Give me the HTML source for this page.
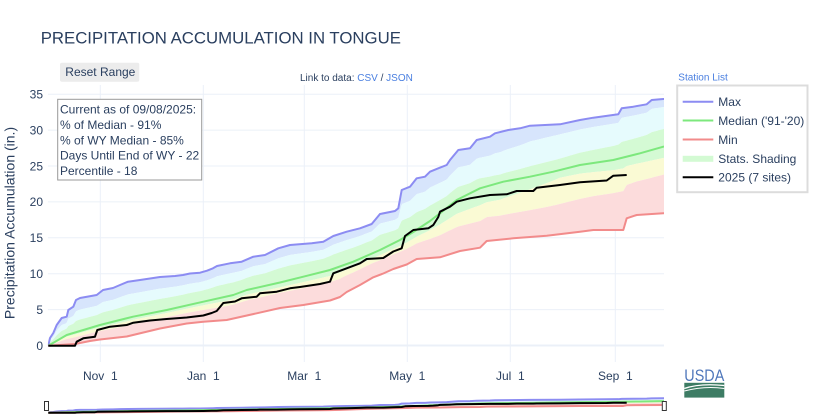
<!DOCTYPE html>
<html>
<head>
<meta charset="utf-8">
<style>
  html,body{margin:0;padding:0;background:#fff;}
  body{width:816px;height:420px;overflow:hidden;position:relative;font-family:"Liberation Sans",Arial,sans-serif;}
  svg{position:absolute;left:0;top:0;}
  text{font-family:"Liberation Sans",Arial,sans-serif;}
</style>
</head>
<body>
<svg width="816" height="420" viewBox="0 0 816 420" xmlns="http://www.w3.org/2000/svg">
  <defs>
    <clipPath id="plotclip"><rect x="47.9" y="85" width="616.1" height="277"/></clipPath>
  </defs>

  <!-- Title -->
  <text x="40.7" y="43.3" font-size="16.8" fill="#2a3f5f">PRECIPITATION ACCUMULATION IN TONGUE</text>

  <!-- Reset Range button -->
  <rect x="60" y="62.7" width="79.3" height="19" rx="2" fill="#ececec"/>
  <text x="65.3" y="76" font-size="12" fill="#2a3f5f">Reset Range</text>

  <!-- Link to data -->
  <text x="300" y="80.8" font-size="10" fill="#2a3f5f">Link to data: <tspan fill="#4a7fe0">CSV</tspan> / <tspan fill="#4a7fe0">JSON</tspan></text>

  <!-- Station list -->
  <text x="678.3" y="80.3" font-size="10" fill="#4a7fe0">Station List</text>

  <!-- Gridlines -->
  <g stroke="#ebf0f8" stroke-width="1">
    <line x1="100.3" y1="85" x2="100.3" y2="362"/>
    <line x1="203.3" y1="85" x2="203.3" y2="362"/>
    <line x1="304.3" y1="85" x2="304.3" y2="362"/>
    <line x1="407.3" y1="85" x2="407.3" y2="362"/>
    <line x1="510.3" y1="85" x2="510.3" y2="362"/>
    <line x1="615.3" y1="85" x2="615.3" y2="362"/>
    <line x1="47.9" y1="309.6" x2="664" y2="309.6"/>
    <line x1="47.9" y1="273.7" x2="664" y2="273.7"/>
    <line x1="47.9" y1="237.8" x2="664" y2="237.8"/>
    <line x1="47.9" y1="201.9" x2="664" y2="201.9"/>
    <line x1="47.9" y1="166" x2="664" y2="166"/>
    <line x1="47.9" y1="130.1" x2="664" y2="130.1"/>
    <line x1="47.9" y1="94.2" x2="664" y2="94.2"/>
  </g>
  <line x1="47.9" y1="345.5" x2="664" y2="345.5" stroke="#ebf0f8" stroke-width="2"/>

  <!-- Y tick labels -->
  <g font-size="12" fill="#2a3f5f" text-anchor="end">
    <text x="43" y="349.8">0</text>
    <text x="43" y="313.9">5</text>
    <text x="43" y="278">10</text>
    <text x="43" y="242.1">15</text>
    <text x="43" y="206.2">20</text>
    <text x="43" y="170.3">25</text>
    <text x="43" y="134.4">30</text>
    <text x="43" y="98.5">35</text>
  </g>

  <!-- X tick labels -->
  <g font-size="12" fill="#2a3f5f" text-anchor="middle" style="white-space:pre">
    <text x="100.3" y="380" xml:space="preserve">Nov  1</text>
    <text x="203.3" y="380" xml:space="preserve">Jan  1</text>
    <text x="304.3" y="380" xml:space="preserve">Mar  1</text>
    <text x="407.3" y="380" xml:space="preserve">May  1</text>
    <text x="510.3" y="380" xml:space="preserve">Jul  1</text>
    <text x="615.3" y="380" xml:space="preserve">Sep  1</text>
  </g>

  <!-- Y axis title -->
  <text transform="translate(14.5,223) rotate(-90)" font-size="14" fill="#2a3f5f" text-anchor="middle">Precipitation Accumulation (in.)</text>

  <!-- Chart data -->
  <g clip-path="url(#plotclip)">
    <g id="bands"></g>
    <g id="series" fill="none" stroke-width="2" stroke-linejoin="round">
      <path id="pmax" vector-effect="non-scaling-stroke" stroke="#8c8cf2" d=""/>
      <path id="pmed" vector-effect="non-scaling-stroke" stroke="#7de87d" d=""/>
      <path id="pmin" vector-effect="non-scaling-stroke" stroke="#f28b8b" d=""/>
      <path id="pcur" vector-effect="non-scaling-stroke" stroke="#000" d=""/>
    </g>
  </g>

  <!-- Range slider -->
  <g>
    <use href="#bands" transform="matrix(1,0,0,0.0585,0,392.5)"/>
    <use href="#series" transform="matrix(1,0,0,0.0585,0,392.5)"/>
    <rect x="44.5" y="401.5" width="4" height="9" fill="#fff" stroke="#333" stroke-width="1"/>
    <rect x="662.3" y="401.5" width="4" height="9" fill="#fff" stroke="#333" stroke-width="1"/>
  </g>

  <!-- Annotation -->
  <rect x="57.7" y="99.3" width="144" height="80.7" fill="#fff" stroke="#999" stroke-width="1"/>
  <g font-size="12" fill="#2a3f5f">
    <text x="60" y="113.6">Current as of 09/08/2025:</text>
    <text x="60" y="129">% of Median - 91%</text>
    <text x="60" y="144.3">% of WY Median - 85%</text>
    <text x="60" y="159.6">Days Until End of WY - 22</text>
    <text x="60" y="175">Percentile - 18</text>
  </g>

  <!-- Legend -->
  <rect x="677.2" y="85.5" width="130.3" height="106.7" fill="#fff" stroke="#dcdcdc" stroke-width="2"/>
  <line x1="682.7" y1="101.7" x2="713.3" y2="101.7" stroke="#8c8cf2" stroke-width="2"/>
  <line x1="682.7" y1="120.5" x2="713.3" y2="120.5" stroke="#7de87d" stroke-width="2"/>
  <line x1="682.7" y1="139.5" x2="713.3" y2="139.5" stroke="#f28b8b" stroke-width="2"/>
  <rect x="682.7" y="155.8" width="30.6" height="6" fill="#d3fad3"/>
  <line x1="682.7" y1="177.3" x2="713.3" y2="177.3" stroke="#000" stroke-width="2"/>
  <g font-size="12" fill="#2a3f5f">
    <text x="718.3" y="106">Max</text>
    <text x="718.3" y="124.8">Median ('91-'20)</text>
    <text x="718.3" y="143.8">Min</text>
    <text x="718.3" y="163">Stats. Shading</text>
    <text x="718.3" y="181.6">2025 (7 sites)</text>
  </g>

  <!-- USDA logo -->
  <text x="684.3" y="381.2" font-size="17" fill="#4f77bb" textLength="40" lengthAdjust="spacingAndGlyphs">USDA</text>
  <rect x="684.3" y="382.8" width="40" height="14.8" fill="#3d7c64"/>
  <path d="M684.3 388.5 Q700 383 724.3 385.5" stroke="#fff" stroke-width="1.3" fill="none"/>
  <path d="M684.3 391 Q705 385.5 724.3 388.5" stroke="#fff" stroke-width="1" fill="none"/>
</svg>

<script>
(function(){
  var MAX=[[48.3,345.7],[50,338],[53.3,333],[56.7,325],[61.7,318],[66.7,316.7],[68.3,310],[73.3,306.7],[76,300],[80,298],[96.7,295],[103,290],[113,288],[120,285],[128,281.7],[140,280],[160,277],[175,276],[183,275],[190,273.5],[200,272.7],[207,270.7],[213,268.3],[217,266],[230,263.3],[241.7,261.7],[253.3,256.7],[265,255],[278.3,248.3],[290,245],[311.7,243.3],[323.3,241.7],[333.3,236],[346.7,231.7],[360,228.3],[371.7,224],[380,214],[395,211],[398.3,208.3],[401.7,190],[410,186.7],[416.7,178.3],[425,176.7],[430,171.7],[438.3,168.3],[446.7,165],[450,160],[458.3,150],[470,148.3],[476.7,140],[490,136.7],[495,133.3],[508.3,130],[520,128.3],[530,125.7],[560,124.3],[580,120],[593.3,117.7],[618.3,114.3],[621.7,108.3],[633.3,106.7],[646.7,104.3],[651.7,100],[663.3,99],[664,99]];
  var MED=[[48.3,345.7],[66.7,335],[100,325],[133,316.7],[166.7,310],[203.3,301.7],[233.3,295],[246.7,290],[280,282.5],[303.3,276.7],[330,270],[353.3,261.7],[380,250],[400,240],[413.3,232],[430,221],[440,213.3],[456.7,200],[480,188.3],[503.3,181.7],[530,176.7],[553.3,171.7],[580,165],[613.3,160],[640,153.3],[663.3,146.7],[664,146.5]];
  var MIN=[[48.3,345.7],[75,344],[90,341],[100,339.5],[126.7,336.5],[160,328.5],[186.7,323.5],[203.3,321.7],[226.7,320],[256.7,313.3],[280,308],[303.3,305],[330,300.5],[340,297],[346.7,292],[360,285],[373.3,277.3],[383.3,273.5],[393.3,269],[406.7,264.5],[416.7,259],[440,257.3],[460,251],[480,247.7],[486.7,241],[513.3,238.3],[546.7,235.7],[580,231.7],[593.3,230],[623.3,230],[626.7,218.3],[636.7,215],[663.3,213.3],[664,213.3]];
  var CUR=[[48.3,345.7],[75,345.7],[76.7,341.7],[83.3,338.3],[95,336.7],[97.3,330],[110,326.7],[126.7,325],[133.3,322.7],[150,320.5],[166.7,319],[186.7,317.5],[203.3,315.5],[211.7,313],[216.7,311],[223.3,303],[235,301.5],[241.7,298.3],[256.7,296.7],[260,293.3],[276.7,291.7],[290,288.3],[300,287],[320,284],[330,281.7],[333.3,273.3],[346.7,268.3],[360,263.3],[366.7,259],[383.3,258],[393.3,251.5],[401.7,248.3],[405,236],[413.3,230],[428.3,228.3],[433.3,225],[438.3,217],[440,211.7],[450,206.7],[456.7,201.7],[470,198.3],[490,195],[506.7,194.3],[516.7,191],[533.3,191],[536.7,187.7],[560,185],[580,182.3],[606.7,180.5],[613.3,175.7],[626.7,175]];
  function toD(a){return 'M'+a.map(function(p){return p[0].toFixed(1)+' '+p[1].toFixed(1);}).join(' L');}
  document.getElementById('pmax').setAttribute('d',toD(MAX));
  document.getElementById('pmed').setAttribute('d',toD(MED));
  document.getElementById('pmin').setAttribute('d',toD(MIN));
  document.getElementById('pcur').setAttribute('d',toD(CUR));
  function interp(a,x){
    if(x<=a[0][0])return a[0][1];
    for(var i=1;i<a.length;i++){
      if(x<=a[i][0]){var t=(x-a[i-1][0])/(a[i][0]-a[i-1][0]);return a[i-1][1]+t*(a[i][1]-a[i-1][1]);}
    }
    return a[a.length-1][1];
  }
  var F90=[[48,0.65],[133,0.65],[367,0.75],[500,0.6],[560,0.78],[664,0.83]];
  var F70=[[48,0.35],[133,0.35],[367,0.45],[500,0.16],[560,0.25],[664,0.37]];
  var F30=[[48,0.17],[133,0.17],[367,0.2],[500,0.3],[560,0.12],[664,0.17]];
  var F10=[[48,0.42],[133,0.42],[367,0.4],[500,0.58],[560,0.53],[664,0.42]];
  var xs=[];for(var x=48.3;x<664;x+=1)xs.push(x);xs.push(664);
  var cols={mx:[],p90:[],p70:[],p30:[],p10:[],mn:[]};
  xs.forEach(function(x){
    var M=interp(MAX,x),D=interp(MED,x),N=interp(MIN,x);
    cols.mx.push(M);
    cols.p90.push(D-(D-M)*interp(F90,x));
    cols.p70.push(D-(D-M)*interp(F70,x));
    cols.p30.push(D+(N-D)*interp(F30,x));
    cols.p10.push(D+(N-D)*interp(F10,x));
    cols.mn.push(N);
  });
  function band(up,lo,color){
    var s='M';
    for(var i=0;i<xs.length;i++)s+=(i?' L':'')+xs[i].toFixed(1)+' '+up[i].toFixed(2);
    for(var j=xs.length-1;j>=0;j--)s+=' L'+xs[j].toFixed(1)+' '+lo[j].toFixed(2);
    s+=' Z';
    var p=document.createElementNS('http://www.w3.org/2000/svg','path');
    p.setAttribute('d',s);p.setAttribute('fill',color);p.setAttribute('stroke','none');
    return p;
  }
  var g=document.getElementById('bands');
  g.appendChild(band(cols.mx,cols.p90,'#d7e5fc'));
  g.appendChild(band(cols.p90,cols.p70,'#e6fbfd'));
  g.appendChild(band(cols.p70,cols.p30,'#d4fad4'));
  g.appendChild(band(cols.p30,cols.p10,'#fafad4'));
  g.appendChild(band(cols.p10,cols.mn,'#fcdcdc'));
})();
</script>
</body>
</html>
